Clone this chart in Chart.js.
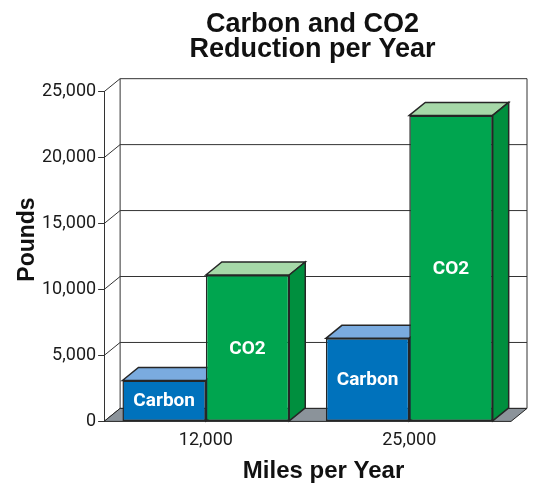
<!DOCTYPE html>
<html>
<head>
<meta charset="utf-8">
<script src="https://cdn.jsdelivr.net/npm/chart.js@4.4.1/dist/chart.umd.min.js"></script>
<style>
  html, body { margin: 0; padding: 0; background: #fff; }
  #wrap { width: 534px; height: 485px; }
</style>
</head>
<body>
<div id="wrap"><canvas id="chart" width="534" height="485"></canvas></div>
<script>
// Carbon and CO2 reduction chart (3D look drawn by a small plugin)

const categories = ['12,000', '25,000'];
const seriesNames = ['Carbon', 'CO2'];
const carbonValues = [3100, 6300];
const co2Values = [11100, 23200];
const yTicks = [0, 5000, 10000, 15000, 20000, 25000];
const xTitle = 'Miles per Year';
const yTitle = 'Pounds';

const NARROW = 'Roboto, "Liberation Sans", sans-serif';
const BOLD = '"Liberation Sans", Arial, sans-serif';

// depth of the fake 3D extrusion
const DX = 16;
const DY = -13;

const faces = [
  { front: '#0072bc', top: '#7aabdf', side: '#005b98' },
  { front: '#00a54f', top: '#a6d8a8', side: '#008f3e' }
];
const LINE = '#262626';

function poly(ctx, pts, fill) {
  ctx.beginPath();
  ctx.moveTo(pts[0][0], pts[0][1]);
  for (let i = 1; i < pts.length; i++) ctx.lineTo(pts[i][0], pts[i][1]);
  ctx.closePath();
  if (fill) { ctx.fillStyle = fill; ctx.fill(); }
  ctx.stroke();
}

const box3d = {
  id: 'box3d',
  afterLayout(chart) {
    // title is centred over the whole box incl. the back wall
    const t = chart.titleBlock, a = chart.chartArea;
    if (t) { t.left = a.left - 6; t.right = a.right + DX; }
  },
  beforeDatasetsDraw(chart) {
    const { ctx, chartArea: a, scales } = chart;
    const y = scales.y;
    ctx.save();
    ctx.lineWidth = 1;
    ctx.strokeStyle = '#333';

    // back wall + left wall grid
    yTicks.forEach(v => {
      const py = y.getPixelForValue(v);
      ctx.beginPath();
      ctx.moveTo(a.left, py);
      ctx.lineTo(a.left + DX, py + DY);
      ctx.lineTo(a.right + DX, py + DY);
      ctx.stroke();
    });
    ctx.beginPath();
    ctx.moveTo(a.left + DX, a.top + DY);
    ctx.lineTo(a.left + DX, a.bottom + DY);
    ctx.moveTo(a.right + DX, a.top + DY);
    ctx.lineTo(a.right + DX, a.bottom + DY);
    ctx.stroke();

    // floor
    ctx.strokeStyle = LINE;
    poly(ctx, [[a.left, a.bottom], [a.left + DX, a.bottom + DY],
               [a.right + DX, a.bottom + DY], [a.right, a.bottom]], '#8b939a');

    // top and side faces of every bar
    ctx.lineWidth = 1.5;
    chart.data.datasets.forEach((ds, i) => {
      chart.getDatasetMeta(i).data.forEach(bar => {
        const l = bar.x - bar.width / 2, r = bar.x + bar.width / 2;
        const t = bar.y, b = bar.base;
        poly(ctx, [[l, t], [l + DX, t + DY], [r + DX, t + DY], [r, t]], faces[i].top);
        poly(ctx, [[r, t], [r + DX, t + DY], [r + DX, b + DY], [r, b]], faces[i].side);
      });
    });
    ctx.restore();
  },
  afterDatasetsDraw(chart) {
    const { ctx } = chart;
    ctx.save();
    ctx.fillStyle = '#fff';
    ctx.font = 'bold 19px ' + NARROW;
    ctx.textAlign = 'center';
    ctx.textBaseline = 'middle';
    chart.data.datasets.forEach((ds, i) => {
      chart.getDatasetMeta(i).data.forEach(bar => {
        ctx.fillText(ds.label, bar.x, (bar.y + bar.base) / 2 + 1);
      });
    });
    ctx.restore();
  },
  afterDraw(chart) {
    // axis titles, centred on the 3D box rather than on the front plane
    const { ctx, chartArea: a } = chart;
    ctx.save();
    ctx.fillStyle = '#111';
    ctx.textAlign = 'center';
    ctx.textBaseline = 'alphabetic';
    ctx.font = 'bold 24px ' + BOLD;
    ctx.fillText(xTitle, (a.left + a.right) / 2 + DX, a.bottom + 57);
    ctx.translate(a.left - 70, (a.top + a.bottom) / 2 - 17);
    ctx.rotate(-Math.PI / 2);
    ctx.font = 'bold 23px ' + BOLD;
    ctx.fillText(yTitle, 0, 0);
    ctx.restore();
  }
};

new Chart(document.getElementById('chart'), {
  type: 'bar',
  data: {
    labels: categories,
    datasets: [
      { label: seriesNames[0], data: carbonValues, backgroundColor: faces[0].front },
      { label: seriesNames[1], data: co2Values, backgroundColor: faces[1].front }
    ].map(d => Object.assign(d, {
      borderColor: LINE, borderWidth: 1.5, borderSkipped: false,
      categoryPercentage: 0.82, barPercentage: 1
    }))
  },
  options: {
    responsive: false,
    animation: false,
    layout: { padding: { left: 40, right: 23, top: 12, bottom: 34 } },
    plugins: {
      legend: { display: false },
      tooltip: { enabled: false },
      title: {
        display: true,
        text: ['Carbon and CO2', 'Reduction per Year'],
        font: { family: BOLD, size: 27, weight: 'bold', lineHeight: 0.92 },
        color: '#111',
        padding: { top: 0, bottom: 30 }
      }
    },
    scales: {
      x: {
        grid: { display: false },
        border: { display: false },
        ticks: { font: { family: NARROW, size: 18 }, color: '#1a1a1a', padding: 0 }
      },
      y: {
        min: 0, max: 25000,
        afterBuildTicks: s => { s.ticks = yTicks.map(v => ({ value: v })); },
        grid: { drawOnChartArea: false, drawTicks: true, tickLength: 6, color: '#333' },
        border: { display: true, color: '#333', width: 1 },
        ticks: {
          font: { family: NARROW, size: 18 }, color: '#1a1a1a', padding: 2,
          callback: v => v.toLocaleString('en-US')
        }
      }
    }
  },
  plugins: [box3d]
});
</script>
</body>
</html>
